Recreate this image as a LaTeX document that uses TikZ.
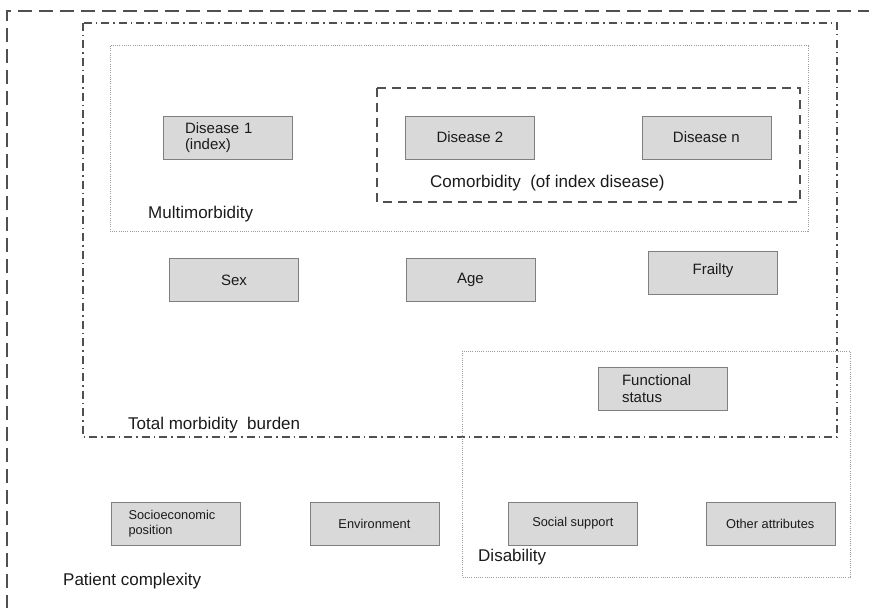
\documentclass[tikz,border=0pt]{standalone}
\usepackage{fontspec}
\setsansfont{Liberation Sans}
\usetikzlibrary{
  positioning,  % Function "of" (e.g. [right=of x])
}
\definecolor{boxfill}{HTML}{D9D9D9}
\definecolor{boxline}{HTML}{7F7F7F}
\definecolor{frameline}{HTML}{505050}
\definecolor{dotline}{HTML}{9C9C9C}
\definecolor{textcol}{HTML}{1A1A1A}
\def\myrowdist{69pt}
\def\mycoldist{107pt}
\tikzset{
  font=\sffamily,
  my box/.style={
    draw=boxline,
    fill=boxfill,
    text=textcol,
    minimum width=129pt,
    minimum height=43pt,
    inner sep=0pt,
    font=\sffamily\fontsize{15}{16.5}\selectfont,
    rectangle
  },
  my small box/.style={
    my box,
    font=\sffamily\fontsize{12.8}{15.5}\selectfont
  },
  my left box/.style={
    align=left,
    inner xsep=#1,
    text width=129pt-2*#1
  },
  my label/.style={
    anchor=west,
    inner sep=0pt,
    text=textcol,
    font=\sffamily\fontsize{17}{20}\selectfont
  },
  patient frame/.style={
    draw=frameline,
    line width=2.2pt,
    dash pattern=on 14pt off 7pt
  },
  burden frame/.style={
    draw=frameline,
    line width=1.8pt,
    dash pattern=on 8pt off 4pt on 1.5pt off 4pt
  },
  comorb frame/.style={
    draw=frameline,
    line width=2.2pt,
    dash pattern=on 9pt off 6pt
  },
  dots frame/.style={
    draw=dotline,
    line width=1pt,
    dash pattern=on 1pt off 1.2pt
  }
}

\begin{document}
\begin{tikzpicture}[x=1pt,y=-1pt]
\useasboundingbox (0,0) rectangle (869,607);
\clip (0,0) rectangle (869,607);
% frames
\draw[patient frame] (7,630) -- (7,11) -- (890,11);
\draw[burden frame]  (83,23)   rectangle (837,437);
\draw[dots frame]    (110,46)  rectangle (808,231);
\draw[comorb frame]  (377,88)  rectangle (800,202);
\draw[dots frame]    (462,351) rectangle (850,577);
% boxes
\node[my box,my left box=22pt] (d1) at (227.5,137.5) {Disease 1\\(index)};
\node[my box] (d2) [right=113pt of d1]   {Disease 2};
\node[my box] (dn) [right=\mycoldist of d2] {Disease n};
\node[my box] (sex) at (234,280)        {Sex};
\node[my box] (age) [right=\mycoldist of sex] {Age};
\node[my box] (frail) at (713,272.5)    {\raisebox{6pt}{Frailty}};
\node[my box,my left box=24pt] (func) at (662.5,388.5) {Functional\\status};
\node[my small box,my left box=17pt] (socio) at (176,523.5) {Socioeconomic\\position};
\node[my small box] (env)   [right=\myrowdist of socio] {Environment};
\node[my small box] (supp)  [right=\myrowdist of env]   {Social support};
\node[my small box] (other) [right=68pt of supp]        {Other attributes};
% labels
\node[my label] (comorb)  at (430,183) {Comorbidity\ \ (of index disease)};
\node[my label] (multi)   at (148,214) {Multimorbidity};
\node[my label] (burden)  at (128,425) {Total morbidity\ \ burden};
\node[my label] (disab)   at (478,557) {Disability};
\node[my label] (patient) at (63,581)  {Patient complexity};
\end{tikzpicture}
\end{document}
